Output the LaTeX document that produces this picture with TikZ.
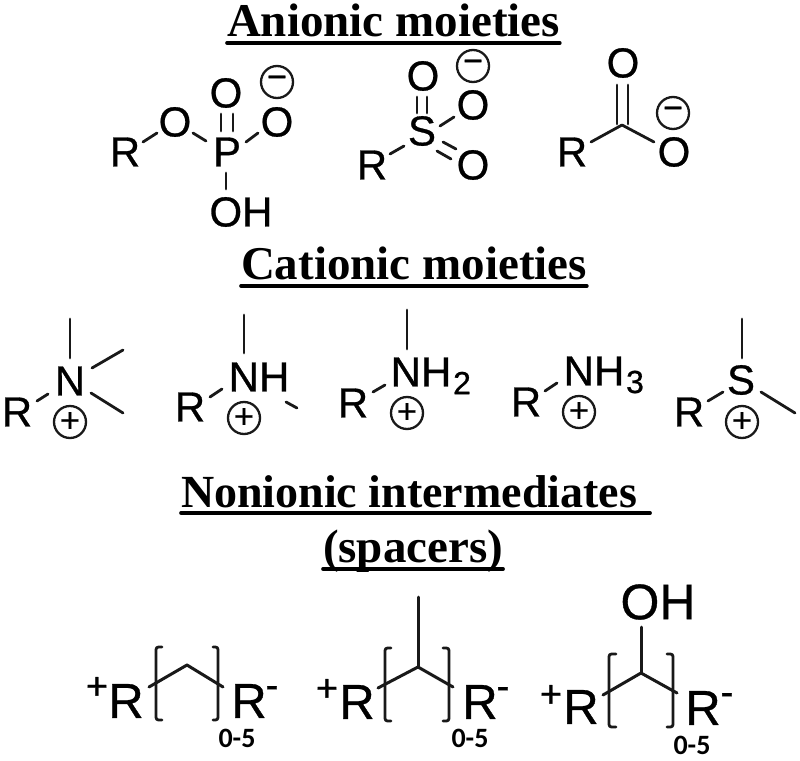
\documentclass[tikz,border=0pt]{standalone}
\usepackage{fontspec}
\setmainfont{Liberation Sans}[FakeBold=0.7]
\newfontfamily\ttlfont{Liberation Serif}
\newfontfamily\crlfont{Carlito}
\newcommand{\fsz}[1]{\fontsize{#1}{#1}\selectfont}
\newcommand{\bond}[6]{\draw[bondline] ([shift={(#2pt,-#3pt)}]#1.center) -- ([shift={(#5pt,-#6pt)}]#4.center);}
\tikzset{
  x=1pt,y=-1pt,
  atom/.style={inner sep=0pt,outer sep=0pt,font=\fsz{42}},
  bigatom/.style={inner sep=0pt,outer sep=0pt,font=\fsz{49}},
  subs/.style={inner sep=0pt,outer sep=0pt,font=\fsz{32}},
  bondline/.style={line width=2.8pt,line cap=round,line join=round,black!90},
  chain/.style={line width=3pt,line cap=round,line join=round,black!90},
  brack/.style={line width=2.8pt,rounded corners=2.5pt,line cap=round,black!90},
  chg/.style={circle,draw=black!90,line width=2.3pt,minimum size=32pt,inner sep=0pt,outer sep=0pt,font=\fsz{34}},
  sup/.style={inner sep=0pt,outer sep=0pt,font=\fsz{38}},
  cnt/.style={inner sep=0pt,outer sep=0pt,font=\crlfont\bfseries\fsz{28}},
  ttl/.style={inner sep=0pt,outer sep=0pt,anchor=base west,font=\ttlfont\bfseries\fsz{47}},
  rul/.style={line width=3.6pt,line cap=round,black},
}
\newcommand{\pl}{\raisebox{-0.11em}{+}}
\newcommand{\mn}{\raisebox{-0.16em}{−}}
\begin{document}
\begin{tikzpicture}
\useasboundingbox (0,0) rectangle (800,760);
\fill[white] (0,0) rectangle (800,760);
% titles
\node[ttl] (t1) at (227,37) {Anionic moieties};
\draw[rul] ([yshift=-6pt]t1.base west) -- ([yshift=-6pt]t1.base east);
\node[ttl] (t2) at (241,279) {Cationic moieties};
\draw[rul] ([yshift=-7pt]t2.base west) -- ([yshift=-7pt]t2.base east);
\node[ttl,font=\ttlfont\bfseries\fsz{46}] (t3) at (181,507) {Nonionic intermediates};
\draw[rul] ([yshift=-6pt]t3.base west) -- ([shift={(13pt,-6pt)}]t3.base east);
\node[ttl] (t4) at (323,562) {(spacers)};
\draw[rul] ([yshift=-7pt]t4.base west) -- ([yshift=-7pt]t4.base east);
% phosphate
\node[atom] (R1) at (125,152) {R};
\node[atom] (O1) at (175,122) {O};
\node[atom] (P) at (227,152) {P};
\node[atom] (O2) at (226,93) {O};
\node[atom] (O3) at (277,122) {O};
\node[atom] (OH1) at (241,212) {OH};
\node[chg] (m1) at (277,82) {\mn};
\bond{R1}{18}{-10}{O1}{-18}{11}
\bond{O1}{18}{11}{P}{-21}{-11}
\bond{P}{-6}{-21}{O2}{-5}{21}
\bond{P}{6}{-21}{O2}{7}{21}
\bond{P}{19}{-10}{O3}{-19}{11}
\bond{P}{-1}{21}{OH1}{-15}{-23}
% sulfonate
\node[atom] (R2) at (372,165) {R};
\node[atom] (S1) at (422,131) {S};
\node[atom] (O4) at (423,76) {O};
\node[atom] (O5) at (473,105) {O};
\node[atom] (O6) at (473,165) {O};
\node[chg] (m2) at (473,66) {\mn};
\bond{S1}{-5}{-18}{O4}{-6}{21}
\bond{S1}{5}{-18}{O4}{4}{21}
\bond{S1}{18}{-5}{O5}{-19}{12}
\bond{R2}{18}{-11}{S1}{-18}{15}
\bond{S1}{21}{11}{O6}{-17}{-16}
\bond{S1}{15}{20}{O6}{-22}{-6}
% carboxylate
\node[atom] (R3) at (572,152) {R};
\coordinate (C1) at (622,125);
\node[atom] (O7) at (623,63) {O};
\node[atom] (O8) at (674,152) {O};
\node[chg] (m3) at (673,113) {\mn};
\bond{C1}{-5}{-1}{O7}{-6}{22}
\bond{C1}{6}{-1}{O7}{5}{22}
\bond{R3}{19}{-10}{C1}{0}{0}
\bond{C1}{0}{0}{O8}{-20}{-10}
% cation 1
\node[atom] (R4) at (17,412) {R};
\node[atom] (N1) at (70,381) {N};
\node[chg] (p1) at (70,422) {\pl};
\coordinate (a1) at (70,319);
\coordinate (a2) at (123,350);
\coordinate (a3) at (123,413);
\bond{N1}{0}{-23}{a1}{0}{0}
\bond{N1}{22}{-13}{a2}{0}{0}
\bond{N1}{21}{12}{a3}{0}{0}
\bond{R4}{20}{-11}{N1}{-22}{13}
% cation 2
\node[atom] (R5) at (190,407) {R};
\node[atom] (N2) at (259,377) {NH};
\node[chg] (p2) at (244,418) {\pl};
\coordinate (a4) at (244,315);
\coordinate (a5) at (297,408);
\bond{N2}{-15}{-24}{a4}{0}{0}
\bond{N2}{27}{25}{a5}{0}{0}
\bond{R5}{20}{-10}{N2}{-37}{12}
% cation 3
\node[atom] (R6) at (353,403) {R};
\node[atom] (N3) at (421,372) {NH};
\node[subs] (s2) at (462,383) {2};
\node[chg] (p3) at (407,413) {\pl};
\coordinate (a6) at (407,310);
\bond{N3}{-14}{-23}{a6}{0}{0}
\bond{R6}{20}{-11}{N3}{-36}{13}
% cation 4
\node[atom] (R7) at (526,402) {R};
\node[atom] (N4) at (594,371) {NH};
\node[subs] (s3) at (635,382) {3};
\node[chg] (p4) at (579,412) {\pl};
\bond{R7}{19}{-11}{N4}{-37}{12}
% cation 5
\node[atom] (R8) at (689,412) {R};
\node[atom] (S2) at (741,380) {S};
\node[chg] (p5) at (742,422) {\pl};
\coordinate (a7) at (742,319);
\coordinate (a8) at (795,413);
\bond{S2}{1}{-22}{a7}{0}{0}
\bond{S2}{20}{12}{a8}{0}{0}
\bond{R8}{19}{-11}{S2}{-18}{12}
% spacer 1
\node[sup] (sp1) at (97,688) {+};
\node[bigatom] (R9) at (126,701) {R};
\node[bigatom] (R10) at (249,701) {R};
\node[sup] (sm1) at (272,692) {-};
\node[cnt] (n1) at (237,738) {0-5};
\coordinate (c1a) at (149,687);
\coordinate (c1b) at (187,665);
\coordinate (c1c) at (223,687);
\draw[chain] (c1a) -- (c1b) -- (c1c);
\draw[brack] (162,647) -- (156,647) -- (156,720) -- (162,720);
\draw[brack] (213,647) -- (218,647) -- (218,720) -- (213,720);
% spacer 2
\node[sup] (sp2) at (327,690) {+};
\node[bigatom] (R11) at (357,702) {R};
\node[bigatom] (R12) at (480,702) {R};
\node[sup] (sm2) at (503,693) {-};
\node[cnt] (n2) at (470,738) {0-5};
\coordinate (c2a) at (378,688);
\coordinate (c2b) at (418,667);
\coordinate (c2c) at (453,687);
\coordinate (c2d) at (418,597);
\draw[chain] (c2a) -- (c2b) -- (c2c);
\draw[chain] (c2b) -- (c2d);
\draw[brack] (391,648) -- (385,648) -- (385,721) -- (391,721);
\draw[brack] (443,648) -- (449,648) -- (449,721) -- (443,721);
% spacer 3
\node[sup] (sp3) at (551,696) {+};
\node[bigatom] (R13) at (581,707) {R};
\node[bigatom] (R14) at (703,708) {R};
\node[sup] (sm3) at (727,699) {-};
\node[cnt] (n3) at (692,745) {0-5};
\node[inner sep=0pt,outer sep=0pt,font=\fsz{50}] (OH2) at (658,602) {OH};
\coordinate (c3a) at (603,695);
\coordinate (c3b) at (641,673);
\coordinate (c3c) at (677,693);
\draw[chain] (c3a) -- (c3b) -- (c3c);
\draw[chain] (c3b) -- ([shift={(-17pt,-25pt)}]OH2.center);
\draw[brack] (616,654) -- (609,654) -- (609,727) -- (616,727);
\draw[brack] (667,654) -- (673,654) -- (673,727) -- (667,727);
\end{tikzpicture}
\end{document}
